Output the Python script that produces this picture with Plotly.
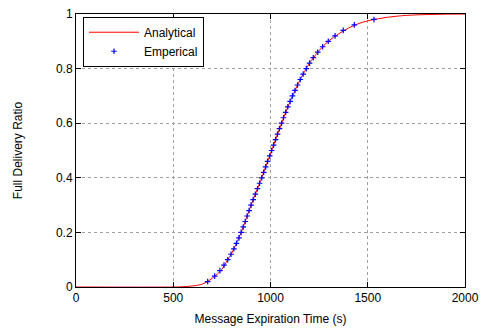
import plotly.graph_objects as go

# Analytical curve
analytical_x = [0, 500, 550, 600, 650, 700, 750, 780, 800, 825, 850, 875, 900, 925, 950, 975,
                1000, 1025, 1050, 1075, 1100, 1125, 1150, 1175, 1200, 1250, 1300, 1350, 1400,
                1450, 1500, 1550, 1600, 1650, 1700, 1800, 1900, 2000]
analytical_y = [0.0, 0.0, 0.001, 0.004, 0.011, 0.032, 0.065, 0.10, 0.123, 0.16, 0.202, 0.25,
                0.30, 0.345, 0.391, 0.44, 0.488, 0.538, 0.586, 0.634, 0.678, 0.718, 0.756,
                0.789, 0.819, 0.866, 0.902, 0.927, 0.948, 0.964, 0.975, 0.982, 0.988, 0.992,
                0.995, 0.998, 0.9993, 0.9998]

# Empirical points
empirical_x = [677, 713, 740, 761, 780, 797, 812, 825, 838, 849, 860, 870, 880, 890, 900,
               911, 922, 933, 944, 955, 965, 975, 985, 996, 1006, 1016, 1026, 1036, 1046,
               1057, 1067, 1078, 1089, 1101, 1113, 1126, 1139, 1153, 1168, 1184, 1201, 1220,
               1243, 1268, 1297, 1332, 1374, 1431, 1532]
empirical_y = [0.02, 0.04, 0.06, 0.08, 0.10, 0.12, 0.14, 0.16, 0.18, 0.20, 0.22, 0.24, 0.26,
               0.28, 0.30, 0.32, 0.34, 0.36, 0.38, 0.40, 0.42, 0.44, 0.46, 0.48, 0.50, 0.52,
               0.54, 0.56, 0.58, 0.60, 0.62, 0.64, 0.66, 0.68, 0.70, 0.72, 0.74, 0.76, 0.78,
               0.80, 0.82, 0.84, 0.86, 0.88, 0.90, 0.92, 0.94, 0.96, 0.98]

x_ticks = [0, 500, 1000, 1500, 2000]
x_tick_labels = ["0", "500", "1000", "1500", "2000"]
y_ticks = [0, 0.2, 0.4, 0.6, 0.8, 1.0]
y_tick_labels = ["0", "0.2", "0.4", "0.6", "0.8", "1"]

FONT = "Liberation Sans, Arial, Helvetica, sans-serif"

fig = go.Figure()
fig.add_trace(go.Scatter(x=analytical_x, y=analytical_y, mode="lines", name="Analytical",
                         line=dict(color="#ff0000", width=1), line_shape="spline"))
fig.add_trace(go.Scatter(x=empirical_x, y=empirical_y, mode="markers", name="Emperical",
                         marker=dict(symbol="cross-thin", size=4, color="#0000ff",
                                     line=dict(color="#0000ff", width=1.2))))

axis_common = dict(
    showline=True, linecolor="black", linewidth=1, mirror="ticks",
    ticks="inside", ticklen=5, tickcolor="black", tickwidth=1,
    showgrid=True, gridcolor="#a0a0a0", griddash="dot", gridwidth=1,
    zeroline=False, tickfont=dict(family=FONT, size=12, color="black"),
)

fig.update_xaxes(range=[0, 2000], tickvals=x_ticks, ticktext=x_tick_labels,
                 title=dict(text="Message Expiration Time (s)", font=dict(family=FONT, size=12, color="black"), standoff=10),
                 **axis_common)
fig.update_yaxes(range=[0, 1], tickvals=y_ticks, ticktext=y_tick_labels,
                 title=dict(text="Full Delivery Ratio", font=dict(family=FONT, size=12, color="black"), standoff=30),
                 **axis_common)

fig.update_layout(
    width=487, height=333,
    margin=dict(l=76, r=22, t=7, b=46),
    plot_bgcolor="white", paper_bgcolor="white",
    font=dict(family=FONT, size=12, color="black"),
    showlegend=True,
    legend=dict(x=0.018, y=0.99, xanchor="left", yanchor="top",
                bordercolor="black", borderwidth=1, bgcolor="white",
                font=dict(family=FONT, size=12, color="black"),
                tracegroupgap=0, itemwidth=50, entrywidth=100,
                ),
)

fig.write_html("out.html")
